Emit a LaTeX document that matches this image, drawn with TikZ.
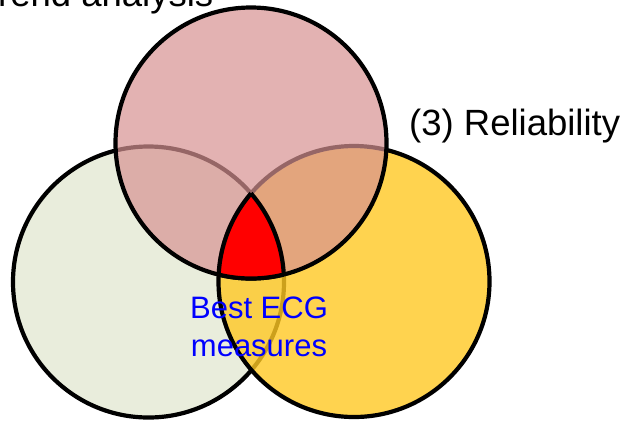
\documentclass[tikz,border=0pt]{standalone}
\usepackage{fontspec}
\setmainfont{Liberation Sans}
\definecolor{greenfill}{RGB}{233,237,220}
\definecolor{yellowfill}{RGB}{255,200,35}
\definecolor{pinkfill}{RGB}{215,146,146}
\begin{document}
\begin{tikzpicture}[x=1bp,y=-1bp,
  outline/.style={draw=black,line width=4.2bp},
  bigtext/.style={font=\fontsize{36.5bp}{44bp}\selectfont,inner sep=0pt},
  bluetext/.style={font=\fontsize{31bp}{38bp}\selectfont,text=blue,inner sep=0pt,anchor=base}]
\useasboundingbox (0,0) rectangle (625,422);
\coordinate (G) at (148.5,282);
\coordinate (Y) at (354,281.5);
\coordinate (P) at (251,143);
\def\R{135.5bp}
% circle 1 (left, green)
\fill[greenfill] (G) circle[radius=\R];
\draw[outline] (G) circle[radius=\R];
% circle 3 (right, yellow), translucent fill, full outline
\fill[yellowfill,fill opacity=0.8] (Y) circle[radius=\R];
\draw[outline] (Y) circle[radius=\R];
% circle 2 (top, pink)
\fill[pinkfill,fill opacity=0.7] (P) circle[radius=\R];
\draw[outline] (P) circle[radius=\R];
% triple intersection
\begin{scope}
  \clip (P) circle[radius=\R];
  \clip (G) circle[radius=\R];
  \fill[red] (Y) circle[radius=\R];
  \draw[outline] (Y) circle[radius=\R];
\end{scope}
\begin{scope}
  \clip (P) circle[radius=\R];
  \clip (Y) circle[radius=\R];
  \draw[outline] (G) circle[radius=\R];
\end{scope}
\begin{scope}
  \clip (G) circle[radius=\R];
  \clip (Y) circle[radius=\R];
  \draw[outline] (P) circle[radius=\R];
\end{scope}
% labels
\node[bigtext,anchor=base west] (trend) at (-23,6) {Trend analysis};
\node[bigtext,anchor=base west] (rel) at (409,135) {(3) Reliability};
\node[bluetext] (best) at (259,318) {Best ECG};
\node[bluetext] (meas) at (259,356) {measures};
\end{tikzpicture}
\end{document}
